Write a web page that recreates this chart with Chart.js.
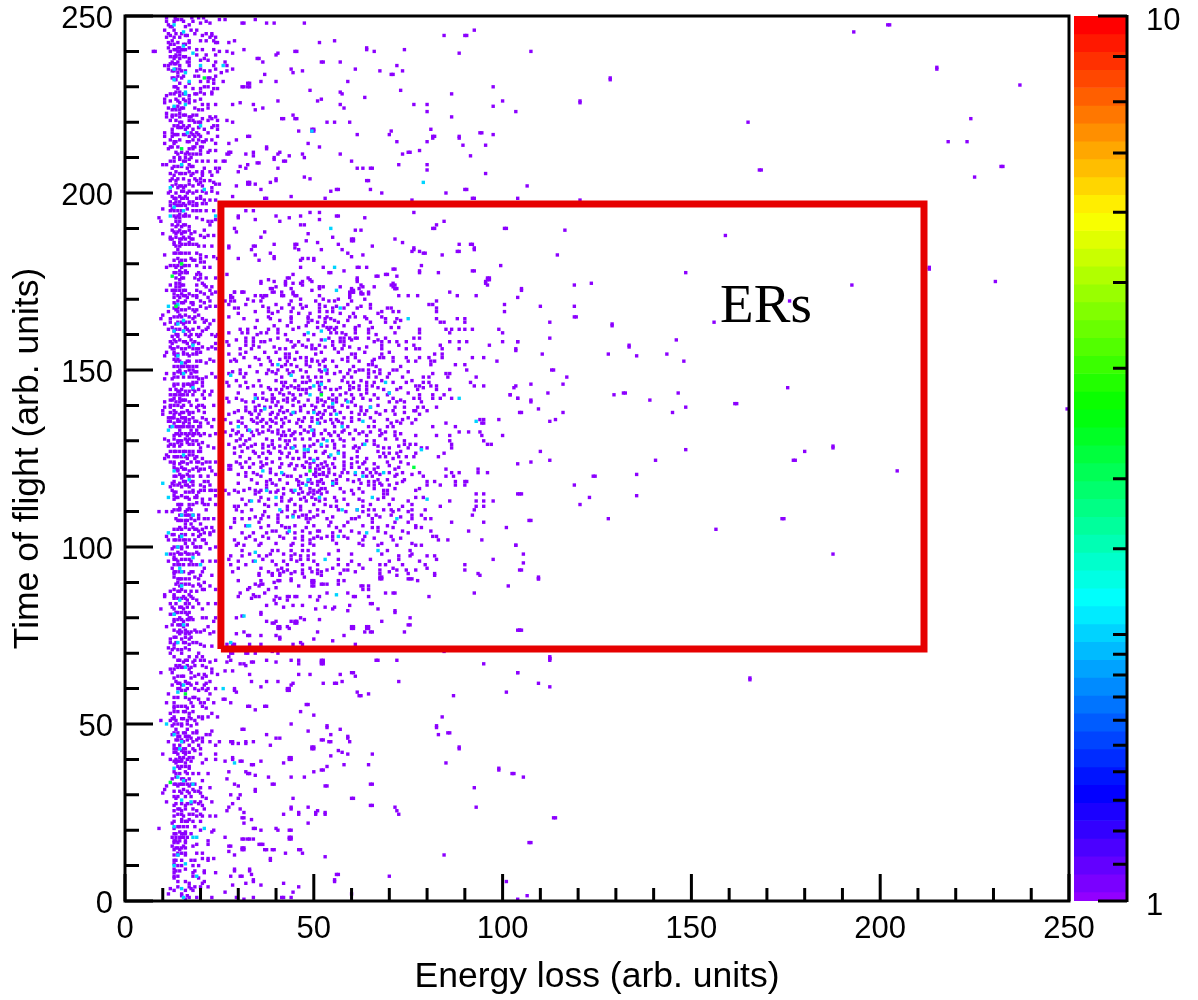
<!DOCTYPE html>
<html>
<head>
<meta charset="utf-8">
<title>ERs</title>
<script src="https://cdn.jsdelivr.net/npm/chart.js@4/dist/chart.umd.min.js"></script>
<style>
  body { margin: 0; background: #fff; }
  #wrap { position: relative; width: 1198px; height: 1000px; }
  #main { position: absolute; left: 0; top: 0; }
  #bar { position: absolute; left: 1070px; top: 0; }
</style>
</head>
<body>
<div id="wrap">
  <canvas id="main" width="1198" height="1000"></canvas>
  <canvas id="bar" width="128" height="1000"></canvas>
</div>
<script>
// every row: first number is the time of flight, the rest are energy loss values
const bandTop = [
  [249.5,11,13.3,17.7,19.5,20.8],[248.5,11,13,15.5,18,21.5],[247.5,11.5,17],[246,10.5,13,17.5,19],
  [245,11.5,13.5,15,18.5,21.5,23],[244,11,13,14.5,22.5,24],[243,12.5,17,20,21.5,23.5],[242.5,11.5,14,17,24,24.5],
  [241,11.5,14,14.5,17],[240,7.5,8,12,14,14.5,25],[239,13.5,14.5,19,21.5,24],[238,13,14.5,17,21],
  [237,12.5,14,16.5,17,24,26.5],[236,10.5,11.5,14.5,17,23.5,27],[235,11.5,13.5,14.5,20,24],[234,14,25.5],
  [233,14,15.5,18.5,19.5,24],[232,13.5,23.5],[231,14.5,17,23.5],[229.5,14,18,20,23.5,24.5],
  [228.5,13.5,14.5,20,23],[227.5,11,14.5,17],[226.5,10.5,13.5,15.5,17,20],[225.5,10.5,14.5,17],
  [224.5,14],[223.5,12.5,13.5,14.5,19.5,20.5],[222.5,11,14.5],[221.5,11,12.5,14.5,17,17.5,22.5,24],
  [220.5,12,13.5,17,18,22,24.5],[219,13,14,15.5,17,23.5,24.5],[218,12.5,16,18,21,24.5],[217,10.5,12.5,17.5,19,22],
  [216,10.5,12.5,17,18.5,20,24.5],[215,12,14.5,18,19.5],[214,10.5,13,19,24],[212.5,11.5,17,18],
  [211.5,13.5,15,16.5,22],[210,13,14.5,16,17.5],[209.5,14.5,17],[208,10,11,17],
  [207,12.5,16.5,21,24,25],[206,13.5,17,19],[205,13,17.5,20.5,23],[203.5,12,13.5,17,19,21,22.5],
  [202.5,13.5,17,19.5,24,25],[201.5,14,15.5,23],[200,11.5,13.5,16.5,18,21.5,24.5],[199,12.5,14.5,16,20],
  [197.5,12,13.5,14.5,17,18],[197,13,15.5,17,19,20.5,21.5],[195.5,10,12.5,16.5],[194,14.5,16],
  [193,9,13.5,14.5,19],[192,9.5,13.5,14.5,22,23],[190.5,13.5,15,17],[189.5,12.5,14.5,17,21],
  [188.5,10,13.5,15,17.5],[187.5,12,13.5,15.5,17,21],[186,13,14.5,17],[185,13.5,14.5,19.5],
  [184,14],[182.5,10.5,20],[181.5,14,17.5,20,24.5],[180.5,14.5,20,21],[179,11,13.5,15],[178,14.5,16],
  [177,14.5,19,20],[175.5,14.5,19.5],[174.5,13.5,14.5,20.5],[173.5,13.5,14.5,21.5,23]
];
const bandMid = [
  [172.5,11,13,14.5],[171.5,13,15,17,21,23],[170.5,13,14.5,16.5,19,22],[169.5,14,16,20,22.5],
  [168.5,13.5,18],[167.5,13,14,17,21.5],[166.5,11.5,14,18.5],[165.5,10,14.5,16,19.5],
  [164.5,9.5,12,18,20.5],[163,10.5,13.5,15.5,22.5],[162,12.5,16,19.5,22],[161,13,15.5,17,20.5],
  [159.5,12.5,14,17,19.5,24],[158.5,13,14.5,17.5],[157.5,12.5,16.5,18,19.5,24],[156.5,12,14,17,20.5,23],
  [155,11,13,15.5,19,20],[154,10.5,13.5,17],[153,13,14,22.5],[152,15,16,21.5],
  [151,14,16.5,17],[150,14.5,17,18],[149,11,13,15,17.5,23],[147.5,10.5,12.5,19.5,20.5],
  [146.5,18,19,20.5],[145.5,13,15.5,17.5,20.5],[144.5,12,13.5,15,18,19.5],[143,13.5,14.5,20.5,22.5],
  [142,13,14.5,21],[141,10.5,13.5,14.5,17],[139.5,10.5,12,15,19,21],[138.5,10,13,16.5,19.5],
  [137.5,10,13,14.5,17],[136,14,16,17],[135,13,15.5,17,20,22],[134,12,13.5,15,16.5,18,23],
  [133,14.5,17.5,19],[131.5,13,14.5,16.5,18,20,22.5],[130.5,10.5,13,16,17],[129.5,14,16.5,20.5],
  [128.5,11.5,13,14.5,22],[127,12,14.5,19.5],[126,11,17,18],[125,10.5,16.5,18.5,20.5],
  [123.5,13,14.5,16.5,20.5],[122.5,13,15,19,22.5],[121.5,14,17,19.5,23],[120.5,14.5,16.5,24],
  [119.5,15],[118,12.5,14.5],[117,12,15,17,21],[116,12.5,18,22.5,24],[114.5,13,15,19,24],[113.5,13,17,20.5,22.5],
  [112.5,19,20.5],[111,14.5,17],[110,9,11,12.5,16],[109,17],[108,13.5,17.5,19.5,22],[106.5,16,17.5,20],
  [105.5,14.5,16,18,21.5,23],[104.5,19.5,23.5],[103,11,14.5,19.5],[102,11.5,14.5,17,20.5],
  [101,16,18,21.5],[99.5,12.5,15,22.5],[98.5,14,16,19],[97,13],[96,11.5,14,17.5,20.5],
  [95,13,18],[94,12.5,21],[92.5,13,17],[91.5,13,18.5],[90,14,21],[89,14.5,18,20,22.5],[88,13,15,21],[86.5,10.5,13,17]
];
const bandLow = [
  [86,10.5,13,15.5,17.5],[85,16.5,19],[84,12,13.5,16,17],[82.5,9.5,13,15.5,20.5],[81,12,13,16.5],
  [80,14.5,17,17.5,20.5],[79,13,15.5,23.5],[77.5,11,15.5,22],[76.5,13,14.5,16,18.5,21],[75.5,14.5,16,17,22.5],
  [74,12,15,17],[72.5,13,17,20],[71.5,11.5,13,16],[70,12,15,19.5],[69,13,17,19,20.5],
  [67.5,15.5,18,22.5],[66.5,13.5,14.5,16.5,18.5,20.5],[65.5,12,13,17,23],[64.5,9.5,12.5,17.5,23],[63,13,17.5,20.5],
  [62,13.5,16,22.5],[61,12.5,15,17.5,21],[59.5,15,16,19.5,21.5],[58.5,11.5,22.5],[57,17,19.5,22,26],
  [56,11,13,17.5,21],[54.5,13,16.5,21.5],[53,12,17,23],[52,13,17,19.5,22],[51,9.5,12,13.5,16.5,18.5],
  [49.5,12.5,15,17.5],[48.5,13.5,16.5],[47,12.5,21.5,22.5],[46,17.5,19.5,20.5],[45,11.5,15.5,18,20.5,22.5,25],
  [44,13,14.5,17],[42.5,15,18.5],[41.5,10,14,16,20,24],[40,12,13.5,15,16.5],[39,13.5,16,20.5],
  [37.5,14.5,17],[36.5,13,16],[35,13.5],[34,16,20.5],[32.5,11,14,17],[31.5,10.5,15.5,18],
  [30.5,10,15,17,20],[29,13.5,21.5],[28,11,18.5],[27,13,16,20.5],[25.5,13,15,19],[24,13,15.5,19,22.5],
  [23,15,17],[22,12.5],[20.5,9,13],[19.5,14.5,16,23],[16.5,13,14,16],[15.5,12.5,15.5,18],[14.5,13,14.5],
  [13,13,14,16],[12,20.5],[10.5,13],[9,13,16],[8,13,18],[6.5,13,19.5],[5,17,20.5],[3.5,12,17.5],[2,11.5,15],[1,17],[0.5,16]
];
// second pass over the band, the chains of touching cells
const bandExtra = [
  [249,13.5,14,15],[247,12,12.5,16],[244.5,12,16,16.5],[242,12,13,15.5,16],[240.5,13,13.5,15,15.5,16],[238.5,12,13,13.5,15.5,16],[236.5,12,13,13.5],
  [234.5,12.5,13,15,16],[232.5,12.5,13,15,22,22.5],[230,13,13.5,16,21,22],[228,12,13,15.5,16,18.5,19],[226,12,14,16,18.5],[224,11.5,13,15,15.5,18.5,22],
  [222,12.5,13.5,15.5,16,18,19],[220,14.5,15,18.5,19.5,20],[218.5,14,14.5,15,16.5,19.5],[216.5,13,13.5,14,15.5,16,18,19.5],[214.5,13,13.5,16.5,17,20.5,21],
  [213,12,12.5,14,18,18.5,20,20.5],[211,14,16,17,18,19,20],[209,12,13,15.5,16,19],[207.5,13,14,15,17.5,18],[205.5,12,14.5,15,16,18,20.5],[204,12.5,14,15.5,18.5,20],
  [202,12.5,14.5,15,16,18,20.5],[200.5,12,15,15.5,17,19],[198.5,13,13.5,15,15.5,16.5,19,20],[196.5,12,13.5,14,14.5,15,16,18,19],[195,12,13,14,15,18,19],
  [193.5,13,14,15.5,16,17],[191,12.5,14,15.5,16,22.5],[189,13,14,15.5,16,18.5],[187,12,12.5,14.5,15,16,17.5,18],[185.5,13,15,16,17,18,19],[183,13,13.5,14.5,15,16,17,19],
  [181,13,15,16,18,18.5],[179.5,12,13,14,15.5,16,17,19],[177.5,13,13.5,15,16,16.5,19.5],[176,13.5,15,15.5,18.5,20],[174,12,15,15.5,19,21],[172.5,12.5,13.5,15.5,16,19,22.5],
  [171,14,15.5,16,18,19],[169,13,15,15.5,17.5,18,21],[167,13.5,15,16,18,19],[165,13,14,15,17,18.5],[163.5,12,14,15,16,17,18.5,21],[161.5,11.5,13.5,14.5,16.5,18,21.5],
  [160,13.5,14,16,17.5,19],[158,12,13.5,15.5,16,18.5],[156,12.5,13,15,16,18,19.5],[154.5,13,14,15.5,16.5,18,19],[152.5,13.5,14.5,16.5,17,19,20],[151,13,15,15.5,18,19],
  [149.5,14,14.5,16,18.5,19],[148,13,14,15.5,17,18,19],[146,13,14,15.5,16.5,17,18],[144,14,14.5,16,17,18.5],[143,12,13,15,15.5,16.5,18],[141.5,12,12.5,15,15.5,16,19],
  [140,12,13,14,15.5,17.5,19.5],[138,12,13.5,15,15.5,17,18,21],[136.5,11.5,12,12.5,13,15,15.5,16,18,20.5],[135.5,11.5,12,14,14.5,16,18.5,19],[134,14,14.5,15.5,17,19.5,20],
  [132,13.5,14,15,16,17,18,18.5,19.5],[130,11.5,14,14.5,15,16.5,18,19],[129,12,13,15,17,18,19.5],[127,13,13.5,15.5,16,17,18,20],[125.5,11.5,13,13.5,14,15,16,19],
  [124,12,13,15,15.5,17.5,19,21.5],[122,13.5,14,15.5,16,18,20,21],[120,13,13.5,15,15.5,17,18,20],[118.5,13,15.5,16,17.5,18,21,22],[117.5,13,14,16,16.5,18,20,22.5],
  [115.5,13,13.5,16,17,18,19.5],[114,13.5,14,16,16.5,18.5,19],[112,14,14.5,15,17,18,21],[110.5,13,14,14.5,16.5,17.5,21.5],[109,14.5,15,16,16.5,18,19.5],
  [107.5,14,14.5,15,16,16.5,18.5],[105,13,14,15,17,18.5,19,20.5],[103.5,12.5,13,15,16,18,20,22.5],[102,13,13.5,15.5,16,18.5,21],[100,13,14,15,16.5,18.5,19,20],
  [98,12,13,14.5,15,16.5,17,18,19.5],[96.5,13,13.5,15,16,17],[95,14,14.5,15.5,17,19],[93,13,13.5,14.5,15.5,17.5,18,20.5],[91,14,14.5,15,16,17,19.5],[89.5,13.5,15,16,17,19.5],
  [87.5,12,14,14.5,16,17.5,19],[85.5,13,14,15,16,18],[83,12.5,14.5,15,16.5,18],[81.5,13.5,14,15,16,17],[79.5,13,14,15,16.5,17,18],[78,12.5,14,14.5,15,16.5],[76,14,15,16.5,17.5,19],
  [74.5,13,13.5,16,17.5],[73,12,13.5,15.5,16,18,19],[71,12.5,14,15,17],[68,14,14.5,16,16.5,18.5,20],[66,14,15,15.5,17.5,21.5],[63.5,14,15,15.5,18.5,21.5],[61.5,14,14.5,16.5,17,19,21.5],
  [60,14,14.5,16.5,18.5,20.5],[57.5,13,14,16,18,18.5],[55,13,14,15,16,18,20.5],[53.5,13,14,15.5,16,18],[51.5,12.5,13,15,15.5,17.5,20.5],[50,13,14,15,16.5,19],[47.5,13,14,15.5,16,18,19],
  [46.5,14,14.5,16,16.5,17],[45.5,13.5,14,15,16.5,19],[43,13,13.5,14,15.5,16,18,20],[42,13,13.5,15.5,16,17],[40.5,14.5,15.5,17,18],[39.5,13,14,14.5,15,17.5],[38,14,15,16,17],
  [36,13.5,14.5,16.5,18],[34.5,12.5,15,15.5,17],[33,13,13.5,14.5,15,15.5,16.5,17.5,18.5],[31,13,14.5,16.5,18.5,19.5],[29.5,13,14,16,17.5,20.5],[27.5,13.5,15,16.5,17.5,19.5],
  [26,14,14.5,16,18,21],[24.5,14,15,17,18,20],[22.5,13,15,16,16.5,18,20],[21,14,14.5,15.5,16.5,18.5],[19,13,13.5,15,15.5,16,17.5],[18,12.5,13.5,14.5,15,15.5,16.5],[17,13,13.5,14.5,16,22],
  [15,13.5,14,15,16],[13.5,14,15,16,19,20.5],[11.5,13,13.5,15,17.5,18.5,22],[10,14,15,18,19.5],[8.5,13.5,14.5,18.5,21],[7,13,14,18],[5.5,14,16,21],[4,14,17,18.5],[3,13,16,18],[1.5,15,16.5]
];
// right hand edge of the band
const bandOuter = [
  [248,20,22.5],[244.5,20.5,23],[240.5,19,20.5,23.5],[237.5,20,22],[234.5,19,21,22.5],[231.5,20,22],[228,21,23],[225,20.5,22,24],[221,20.5,23],[218.5,19.5,23],[215,21.5,23],
  [212,20,22.5,24],[209,20.5,22,24],[206,20.5,22.5,24.5],[203,20,23.5],[200.5,20.5,23],[198,21,22.5,24],[195,20,21.5,23.5],[192.5,20.5,24],[188,20,22,23.5],[185,21,23],[182,21.5,23.5],
  [179,21,22.5],[176,21.5,24],[172,20,24],[168,20,22.5,24],[164,21.5,23.5],[160,20,23,24.5],[156,19,22,24],[152.5,20,23.5],[148,21.5,24],[144,21,23],[140,20.5,23.5],[136,21.5,23.5],
  [132,21,24],[128,20,23.5],[124,19.5,22.5,24],[120,20,22],[116,20,21,23],[112,22,24],[108,21,23.5],[104,21,22.5],[100,20,24],[96,22.5,24],[92,20,23],[88,20.5,24],[84,19.5,22,24],
  [80,21.5,24],[76,20,23.5],[72,21,23],[68,21,24],[64,19.5,21,24.5],[60,22,24],[56,20,23.5],[52,20.5,24.5],[48,19,23],[44,19.5,24],[40,21.5,24],[36,19.5,22],[32,20,22.5],[28,20,23],
  [24,20.5,24],[20,20,23.5],[16,19,22],[12,22,23.5],[8,21,24],[4,20,22],[1,19,23]
];
const clusterRows = [
  [175,36,39.5,42.5,47,49.5,61.5,95.5],[174,42.5,47,62.5,70.5,71.5,96],[173,38.5,44,51.5,60,62,71.5],
  [172,29,31,39,41.5,44.5,59.5,60.5,62.5,64.5,86],[171,28,34.5,36,37,45.5,59.5,72.5,75,77.5,88,93],
  [169.5,26.5,28,29,34,36,44,50.5,54,55.5,60,82.5],[168.5,27.5,32,40,43.5,46.5,51.5,59,65,80.5,81.5,100.5],
  [167.5,29,30,38,41.5,44.5,47,51.5,55,58,61.5,65,69.5,70.5,82.5],[166.5,34.5,38,40.5,44,51.5,53.5,55,68,71,72.5,82.5,100.5],
  [165,27.5,38,44,48.5,51.5,53.5,59.5,61,63.5,68],[164.5,31.5,38.5,44,48.5,53,54.5,64,69,72,82.5,88,90],
  [163.5,44,48.5,51,53,56.5,65,69,71.5,83.5,84.5,90],[162,34.5,46,51,53.5,54.5,56,61,65.5,70.5,72.5],
  [161.5,30.5,32.5,38,40.5,44.5,54,55.5,61,64.5,78,85,86.5,88.5,90,92,99],[160.5,27.5,31,32.5,36,37.5,40.5,54.5,56,57.5,61,64.5,71.5,78,86,100],
  [159,32,34,40.5,54,57,58,59.5,61,61.5,64.5,69,76.5,78],[158,27,32,34,36,37,44,46,55,57,58,66,68,70,72,74.5,86,88.5,90.5,100,104],
  [157,27.5,32,34,45,47,49.5,51.5,55,58,68,72.5,76.5,83.5,96.5],[156,30.5,33.5,41,42.5,49.5,50.5,55.5,57.5,62,68,74.5,77,78,84,88.5,103.5],
  [154.5,27.5,30.5,42.5,43.5,50.5,60,61,68,82,84],[153.5,31.5,34.5,38,42.5,43.5,46.5,48,59,61,67.5,68.5,71,74.5,78,80.5,84,92,95],
  [152.5,28,29.5,38.5,43,48,49.5,51,52.5,55,59,62,65.5,71,75,77,81,82,98.5],[151.5,36,39,42.5,44,48,51.5,64.5,65.5,81,87.5,90],
  [150,30.5,38,40.5,43,46.5,51.5,53.5,59.5,62,63,64.5,67.5,71,72,90.5],[149,27.5,30.5,32,37.5,40,43.5,53.5,55.5,59,64.5,67.5,70,81.5,85,86],
  [148,31.5,41.5,47,48.5,50.5,52,58,60,64.5,66.5,69.5,73.5,79,80.5,85.5,93],[146.5,27,32,41.5,42.5,47,48,51,52,59,60.5,64,66,71,74.5,79,80.5,91.5],
  [145.5,27.5,30.5,34,36,42,44,46,51.5,59.5,62,64,65.5,77,78,81,82.5,92.5,95,103.5],[144.5,38.5,40,41.5,46,47,48,51.5,54.5,56,59.5,62,64,68.5,72,77.5,82.5,86],
  [143,34.5,39,42,44.5,46.5,55,57,60,62.5,66,69.5,78,81.5,84.5,102],[142,27,29.5,35,36.5,39,39.5,43,45,51,54,56,60.5,63,67,71,76.5,78,81.5,83.5,86.5,104],
  [141,27.5,32,34,39,40.5,43,46,51,53,56,60,70,72,74,78.5],[139.5,32,34.5,37,38.5,41.5,46.5,50.5,54,55,59,62.5,65,71.5,74,77.5,79,82.5],
  [138.5,30,32,34.5,36,41,43,46.5,50,53,55.5,62.5,64,69,71,76.5,77,80],[137.5,27.5,33.5,35.5,38.5,40.5,44,51,52.5,54.5,62,63.5,67.5,71.5,78],
  [136,26.5,33.5,36.5,38.5,41.5,46,51,54.5,56,62,69.5,73.5,77,94,95,99],[135,28,31,35,37.5,40,42,45.5,51.5,55,57.5,70.5,73,76,85,94.5,95],
  [134,32,36.5,38.5,41.5,46.5,49,55.5,59,64.5,66,69.5,71,81.5,87.5],[132.5,26.5,30,33.5,36.5,39,42,45,48.5,55.5,57.5,63,65,69,71.5,88.5,91,94],
  [131.5,28,31,34,41.5,42.5,44,50,54.5,56.5,64,67.5,71.5,77,82.5,86,94.5,100],[130,29.5,32,39,42.5,43.5,51,55,58,64,66,74,86,95],
  [129,27.5,31.5,34.5,36.5,39,43,50,55.5,63,66,74,75.5,77,86.5,96,97],[128,29,32.5,36.5,39.5,42.5,44,55.5,60.5,62,68.5,70,75,78.5,80,86.5],
  [126.5,29,34.5,36.5,38.5,41.5,43.5,47.5,52.5,58,68.5,70,72,77,84.5],[125.5,30.5,35.5,43,47.5,54,58,61.5,67.5,69,72.5,74.5,76.5,83],
  [124,29.5,32,36,39,48,50,53,58,61.5,63.5,69.5,73],[123,27.5,28,36.5,43.5,45.5,47,51,53.5,58,70],
  [122,27.5,28,38.5,45,50.5,51.5,54,58,64,66,71.5,85,93.5],[121,32,34,38.5,50.5,52.5,54,57.5,59,63,65,66.5,70,73.5,78,86.5,88.5,93.5,96],
  [120,32,36,43,44,46.5,50.5,53.5,57,64,65.5,71.5,79,85,87],[118.5,37.5,46,48.5,51,51.5,55,60.5,64.5,66,73.5,80,82,87.5,90,90.5],
  [117.5,37.5,40,46,51,55,64.5,66,68,70,80,83.5,87.5,90],[116,26.5,29,31.5,34.5,36,40.5,44,50,51.5,60,68.5,69.5,77],
  [115,27.5,34.5,42,46,48.5,50,52,60.5,68.5,69.5,93,95,104],[114,36,41.5,47.5,49.5,55.5,68.5,77,79],
  [113,33,35.5,41.5,43.5,48,51.5,56,63,75,86,93,95,97.5],[111.5,29,30,38,43,46.5,54.5,56,63,73.5,83.5,93,95],
  [110.5,29.5,33.5,43,46.5,51,56.5,61.5,64.5,66,68.5,70.5,72.5,76,79.5,92.5],[109,36.5,40.5,44.5,47,48,51,64.5,66.5,70.5,76,78.5,92],
  [108,29,31,33,36,40.5,48,49,53.5,60,61,65.5,76,79.5,81],[107,29,35.5,40.5,48.5,54.5,59,65.5,71.5,75,86.5,95],
  [105.5,28,36,42.5,43.5,48,56,65.5,67,71,77,78.5,101],[104.5,39,40,47,51,51.5,57,60,67,73.5,81,91],
  [103,33,36.5,41,47,51,53.5,55,58,63.5,70.5,81.5,82.5],[102,29,34.5,47,49,55,63,71,83,85.5,94.5],
  [100.5,29.5,31.5,35.5,44,47,50,63,67,72,77,78.5,103.5],[99,31,39,40.5,44,47,48.5,56.5,69.5,75.5],
  [97.5,28,31,35.5,37.5,44,46.5,48.5,72.5,75.5,80,82],[96.5,27.5,36.5,44,46.5,48.5,56.5,65,72.5,82.5,97.5],
  [95,28,32,40,43,47,51,56.5,59,62,67.5,69,73.5,79.5,90],[93.5,40.5,43,47,51,53.5,58,59,67.5,72,74.5,77,90],
  [92.5,35.5,39,41,44,47,51,57,67.5,75,82,93.5]
];
const clusterExtra = [
  [173.5,40,52.5,57,66],[170,32.5,46.5,52.5,56.5,63.5],[168,36.5,48,53,56,62.5],[166,30,39,46,49,57,60.5,67],[164,35,41,49.5,55.5,59,73],[162.5,39.5,43,48,52.5,58,62],
  [160,35,42.5,47.5,50,58.5,66.5],[158.5,29.5,38.5,43,48.5,52,60,67],[156.5,35.5,39.5,44.5,48,53,59.5,64],[155,32,37,40,45.5,52,56.5,63.5,70],[153,29,35.5,41,45,49.5,53,57.5,66],
  [151,33,41.5,45.5,49,53,56,60.5,66.5,73],[149.5,28.5,35,39,44.5,48,52,57,61,66,75],[147,29.5,35.5,40,45,49,54,57.5,62.5,68,76],[145,32.5,38,43,45,49,53,57,60.5,67,73,79],
  [143.5,30,36.5,41,43.5,48,52,58.5,64,70,75],[141.5,31,37.5,42,44.5,48.5,52,55,58.5,65,73],[140,35.5,40,44.5,47.5,49.5,52.5,57.5,61,67],[138,29,33,39,42,45,48.5,51.5,57,60,66.5,74],
  [136.5,31,35,40,42.5,47.5,49.5,52,58,60,65,75],[135.5,30,34,36,39,43.5,47,49.5,53,56.5,60,66,72],[133,28.5,32.5,35,38,40.5,43.5,47.5,50,53,58,61,67.5],
  [132,29.5,35.5,40.5,44.5,46.5,50,52,54,59.5,62,68,73],[130.5,30.5,33,37.5,41,45,47,49,52.5,57,60.5,69,72],[128.5,30.5,33.5,38,41,45,47.5,49,52,53.5,58,61,67,72.5],
  [127,31,34,38,41,45.5,48.5,50.5,53,56.5,61.5,67,73],[125,33,37.5,41,44.5,46,49,51,55.5,60,64,71],[123.5,30.5,34,37.5,41.5,44,49,52,55,60,63,66,75],
  [122.5,31,33,36,41,47.5,49,52.5,55.5,60,62,67,72.5],[120.5,30,35,40,42,48,50,51.5,52.5,55.5,61,67.5,72,76],[119,33.5,38.5,41,45.5,49,52,56,59,62,67,69.5,74],
  [118,30,35,39,43,47,49.5,52.5,56,62.5,67.5,72],[116.5,33,37.5,42,46.5,49,52,53,57,62,66,71.5,78],[115.5,30,35.5,38.5,40,44.5,47,49,51,53.5,58,63],[113.5,31,38,44,46.5,50.5,53,58,62,67,71],
  [112,32,37,40,45,50,53,59,65,70,76],[110,31,37,41.5,45,49,52.5,58.5,63,71,75],[108.5,34.5,38,43,46,50,55,62,67.5,73],[106,32,38,41.5,45,50,54,58,63,69.5,77],[104,31,34,37.5,43,45,49,55,62,69,75],
  [102.5,32,38,42,45,50,52,59,66,73],[101,30,36,40,44.5,49,56,62,68,76],[98,33,38.5,42,45,50,54,60,68,76],[96,30,34,39,42,45.5,50,60,70,78],[94,30,36,41.5,49,55,63,71,80],[93,28.5,38,42,45,49.5,52,61,70]
];
const lowRows = [
  [92,35.5,39,41,52,72,82,94],[91.5,47.5,67.5,68],[91,44,67.5,68,75,75.5,76,109.5],[90.5,30,36,40.5,41,44,49.5,50,56.5,58,77.5],
  [90,39.5,49.5,50],[89.5,34.5,36,36.5,52,52.5,53.5,56.5],[89,35.5,46,49.5,50,62.5,63,64.5,101.5],[88.5,33,40],[88,32.5,38,63,64.5],
  [87,30.5,37,53.5,59,69,71,71.5,92.5],[86.5,34],[86,30,34.5,35.5,40,43,43.5,45,45.5,49,51.5,60.5,61,64.5,80.5],[85.5,33.5,41],[85,39.5,43,51],
  [84,40,65,65.5],[83.5,37.5,44.5,47,59.5],[83,42,53,55.5],[82.5,50.5,55,67],[82,59,71.5],[81.5,36,71.5],[81,36],[80.5,31],[80,29.5,46.5,75.5],
  [79.5,47.5,51.5],[79,37.5,40,44,45,45.5,68],[78.5,39,39.5,45,45.5],[78,75,75.5],[77.5,40.5,41,43,60,60.5,64,64.5],[77,40.5,41,43.5,60,60.5,64,64.5],
  [76.5,104.5,105],[76,31.5,51,63.5,65,65.5,74],[75.5,29.5],[75,32.5,33,36,40,58],[74.5,41],[74,41,50],[73.5,55],[73,46.5],
  [72.5,27,28.5,29,33,36,44.5,47,61],[70,28,28.5,32,32.5,34.5,40.5],[70.5,39,84.5],[69,27.5],[68.5,112.5],[68,28,37.5,44,46,52,52.5,66.5,67,72,112.5],
  [67.5,27,33.5,34,40,52,52.5],[67,30.5,31.5,46,52,52.5,95],[66.5,32],[65,26.5,28.5],[64.5,60,60.5,104],[64,33,46,49,57],[63.5,61],
  [62,33.5,37.5,40.5,57.5,72.5],[61.5,44.5,52.5,55.5,56,109.5],[61,44],[60.5,36,112.5],[60,29,43,43.5],[59.5,29,43,43.5],[59,29.5,61.5,101],
  [58.5,64.5],[58,62,62.5,87],[57,26.5],[56,28],[55.5,48,48.5],[55,32.5,33,37,37.5],[54,34.5],[53.5,46.5],[52.5,50],[52,84],[50,44],
  [49.5,53.5,82.5],[49,53.5,82.5],[48.5,31,31.5,57],[48,48.5],[47.5,85.5,86],[47,37.5,54.5,83],[46.5,59],[46,40,41,59],[45.5,52,52.5],
  [45,54,54.5,59.5,28,28.5,32,34],[44.5,28.5,30,32],[44,38.5],[43.5,49.5,50,88.5],[43,49.5,50,88.5],[42.5,56.5],[42,57.5],[41.5,59,65.5],[41,54.5],
  [40.5,28.5,43.5,44],[40,28.5,43.5,44],[39.5,26.5,30.5,31,36],[39,42,85],[38.5,33.5,34,58,64.5],[38,53.5],[37.5,99],[37,52,52.5,99],
  [36.5,27.5,32,50],[36,32.5,33,102.5,103],[35.5,34.5],[35,38,44,47.5,105.5],[34.5,27],[33,29,39,39.5,65,65.5],[32.5,30,53,53.5],[32,92.5],
  [31.5,34.5],[31,34.5],[30,28,30.5],[29,44.5,30,60,60.5],[27.5,28.5],[27,65,65.5],[26.5,27.5,48.5,71.5,93,44],[26,30.5,44],[25.5,27,51,72],
  [25,31.5,50.5,46,53],[24.5,50.5,46,53,42,72.5],[23.5,31,31.5,113.5,114],[23,33.5],[22,31.5,48.5],[20.5,40,34,34.5],[20,40.5,36,43.5,44],
  [18,26.5,43.5,44],[17.5,31,31.5,32.5,33,34,43.5,44],[16.5,107,107.5],[16,35.5,36,36.5],[15.5,27.5,28],[15,31,31.5],[14.5,31,31.5,37,37.5,39,39.5,46,46.5],
  [14,27.5],[13.5,42.5,47],[13,29,84.5],[12.5,53],[12,38.5],[11.5,38.5],[9,29,33],[8.5,29,33],[7.5,33.5,56,56.5],[7,28,30.5,31,70],[6,34,55.5],[5.5,34,55.5,101],
  [5,32,42],[4.5,28.5,36],[4,46],[2.5,26.5,44.5],[2,60],[1.5,106.5],[1,29.5,34,41.5,42,44],[0.5,31.5,104]
];
const upperRows = [
  [249,25,26.5,34.5],[248,31,31.5,37.5,39.5,47.5],[243,29,55.5],[242.5,27.5,51.5],[241,64],[240.5,31.5,64],[240,27,45,45.5,66],[239.5,40.5,28.5],[239,40],
  [238,35,35.5],[237,36.5,52,52.5,57],[236,72],[235,28.5,44,61],[234.5,27,47,67.5],[234,44.5],[233.5,37,70.5,71],[231.5,26,36,40,59],[231,32.5,33],
  [230,31,31.5,32.5,33],[229,49],[228.5,57],[228,57.5],[227,63.5],[226.5,52],[226,40.5,51],[225.5,30.5],[225,28.5,34,57],[224,36.5,58],[223.5,34.5],
  [222,44.5],[221,41.5,42,45,45.5],[220.5,27],[220,28.5,53.5,55.5,59.5],[218,49.5,50],[217.5,46,49.5,50,70.5],[216.5,61.5,70],[216,32.5,33],[215,29.5],[214.5,72],
  [214,27.5,48.5],[213,51.5,37.5],[212.5,37.5],[211.5,27.5,28,34,41],[211,27,27.5,32,40.5,47,57],[210.5,34,43.5],[210,39.5,47.5],[209.5,39.5],[209,26,26.5,42,42.5,60],
  [208.5,35,35.5],[208,32.5,72.5],[207.5,30.5],[207,32,40.5,61.5,63,65,65.5],[206,30],[204.5,47.5],[204,49,40],[203.5,40,64,64.5],[203,32.5,33,38.5],[202.5,32.5,33,34.5],
  [202,29.5],[201,56,56.5,65,36],[200.5,54.5],[200,68],[199,28.5,44],[198.5,37,37.5,53],
  [195,32,34],[194.5,76.5,49,51.5],[193.5,30,40,56,56.5,46.5],[193,43.5,63.5,30],[192.5,34.5,51.5],[192,41,84.5],[191,82.5,46.5,47.5],[190,29,81.5,82,100.5,101],
  [189.5,116.5,62.5,61],[189,29.5,37],[188.5,48.5],[187.5,36,55],[187,60,60.5,71.5],[186.5,48,60,60.5],[186,51,73.5],[185.5,88.5,91.5,92,45,45.5,39.5,56.5],[185,34,34.5,27.5,65.5],
  [184.5,27.5,76.5,92.5,45],[184,33.5,46,52,57.5,76.5,92.5],[183.5,76,88,88.5,78],[183,38.5,59,79,79.5],[182.5,34.5,63,114.5,84],[182,39.5,60],[181.5,30,47,48.5,50,39.5],
  [181,46.5,35.5,50],[179.5,78.5,99.5],[179,46.5,64,61.5,62,52.5],[178.5,71,71.5],[178,58,92,92.5,78],[177.5,54,54.5,83,78],[177,27,44.5,69,69.5],[176.5,66.5,67,72],
  [176,43,43.5,48.5,61.5,96,96.5],[175.5,38,49,61.5,96,96.5],[174.5,42.5,46.5,44.5,36,95.5,71],[173.5,51.5,51.5,63,71],[173,39,71.5,72],[172.5,49.5,60,60.5],[172,29,39.5,60,60.5,31,31.5],[171.5,44.5,59.5,62.5,63,64.5],
  [171,37.5,41.5,42,45,51.5],[170.5,36.5,59.5,28,28.5]
];
// scattered points on the right, as [energy, time]
const sparsePoints = [
  [84.5,244.5],[90,244.5],[90.5,244.5],[92.5,246],[193,245.5],[202,247.5],[202.5,247.5],[74,240.5],[88.5,239.5],[107.5,240],[73.5,234.5],[215,235.5],[215,235],
  [128.5,232.5],[128.5,232],[73,229],[97.5,230],[86.5,228],[237,230.5],[76.5,225],[80,225],[100,226],[97.5,224.5],[120.5,226],[120.5,225.5],[103.5,223],[80,223],
  [86.5,221.5],[224,221],[165,220],[81,218],[94,217],[94.5,217],[97.5,216.5],[81.5,216],[82,216],[81.5,215.5],[88.5,216],[88.5,215.5],[80,214.5],[89.5,213.5],[95.5,213.5],
  [218,214.5],[223,214.5],[78,212],[75,211.5],[75.5,211.5],[73.5,211],[91.5,210.5],[80,208],[80,206.5],[95.5,205.5],[168,206.5],[168.5,206.5],[232,207.5],[232.5,207.5],
  [225,204.5],[106.5,202],[90,201],[90.5,201],[85,200],[92,198.5],[92.5,198.5],[104,198.5],[76,198],[120.5,198],
  [105,173],[105,172.5],[104,170.5],[119,174],[123.5,174.5],[192.5,174],[230.5,175],[110,168],[119,168],[119,165],[119.5,165],[112.5,163.5],[129,163],[129,162.5],
  [176,169.5],[156,163.5],[104,158],[112.5,159],[103.5,155.5],[110.5,154.5],[128,154.5],[133.5,157],[133.5,156.5],[135.5,154],[146,158.5],[143.5,154.5],[148,152.5],
  [113,150],[113.5,150],[117,148],[107.5,146],[116,146],[103,145],[112,143.5],[129.5,143],[132,143.5],[132.5,143.5],[139,141.5],[146.5,143.5],[175.5,145],[102,143],
  [104,142],[107.5,141.5],[107.5,141],[109.5,139],[104.5,138],[105,138],[116,138],[112.5,135.5],[114,136],[161.5,140.5],[162,140.5],[145,138],[148.5,139.5],[249.5,139],
  [110,127],[148.5,127.5],[187.5,128.5],[187.5,128],[180,127],[177,124.5],[177.5,124.5],[112.5,124.5],[140.5,124.5],[107.5,124],[104,123.5],[204.5,121.5],[135.5,120.5],
  [124,120],[124.5,120],[119,117.5],[104.5,115],[105,115],[123,114],[135.5,114.5],[120.5,112],[128,108],[174,108],[174.5,108],[107,107.5],[107.5,107.5],[156.5,105],
  [103.5,100.5],[105.5,98],[187.5,98],[105.5,95.5],[104.5,93.5],[105,93.5],[109.5,91.5],[109.5,91],[104,76.5],[104.5,76.5],[112.5,69],[112.5,68.5],[104,64.5],[165.5,63],[165.5,62.5],
  [213,179],[213,178.5],[159,188],[148.5,177.5]
];
const cyanPoints = [
  [13,247.5],[15.5,245.5],[15.5,241.5],[18,239.5],[20,236],[26,236],[13,235],[16,234],[13,232],[17,231.5],[16,228.5],[16,228],[16,225],[13,224.5],[20,219],[16.5,217],
  [15,208],[21,201],[12,201.5],[13,196],[15.5,195],[12,193.5],[24,193.5],[79,203],[49.5,217.5],[54.5,190],[55.5,179],[56,172.5],
  [11.5,168],[14,168.5],[15.5,164],[14,163],[13,161],[15.5,161],[18,157],[14,154],[15,152],[15.5,149],[18,145],[12.5,134],[11.5,133],[15.5,126],[13,121.5],[17,119],
  [10,118],[11.5,114],[15,109],[18,109],[11.5,104],[15,103],[14,100],[18,97],[20,95],[11,98],[14.5,94],[15,89],[15,93],
  [14.5,85],[13,81],[15.5,78],[14,73],[28,73],[16,66],[15.5,61],[26,60],[14,59],[11,50],[13,47],[15,45],[14.5,43],[13,37.5],[14,35],[15.5,34],[18,33],[17.5,28],
  [15,28.5],[13,21],[21,20.5],[18,18],[19,18],[14,13],[13,10],[16,10.5],[19,7],[15,3.5],[15.5,1],
  [57,167.5],[75,164.5],[52,161],[48.5,160.5],[53,158.5],[40.5,151.5],[44,148.5],[28,148.5],[53,150],[52,146],[50,145.5],[69,146.5],[49,143],[70,143.5],[34.5,142],[88.5,142],
  [55,140.5],[59,141],[37,139],[65,139.5],[44.5,138],[50,138],[56,137.5],[51,135],[63,135.5],[30,134],[93,135.5],[33,133],[49.5,133],[57.5,134],[44.5,128],[47.5,127.5],
  [48.5,127.5],[52,129],[53.5,130],[63.5,129],[54.5,126],[56.5,126.5],[50,124.5],[78.5,127.5],[36.5,121.5],[41.5,121],[68.5,121],[61,121],[63,120],[48.5,119],[48,117.5],
  [55,118],[45,116],[37.5,116],[40,114],[51.5,114],[65.5,114],[80,113.5],[33.5,113],[41,110.5],[57.5,110.5],[61.5,110.5],[44.5,108.5],[72,108],[32.5,106],[33,106],[43.5,104.5],
  [64,104],[56.5,103],[67,99],[34.5,98.5],[53,96.5],[34.5,96],[29,39],[31.5,80.5],[56,86.5]
];
const greenPoints = [[21,232.5],[12.5,176.5],[15,180],[15,212.5],[52,143],[49,121.5],[76.5,122.5],[13.5,168],[16,58.5],[12,33.5]];

// gate drawn round the evaporation residues
const gateX = [25.4, 25.4, 211.6, 211.6, 25.4];
const gateY = [71.2, 196.9, 196.9, 71.2, 71.2];
const gateLabel = "ERs";
const xTicksLabelled = [0, 50, 100, 150, 200, 250];
const yTicksLabelled = [0, 50, 100, 150, 200, 250];

function rowsToPoints(rows) {
    let out = [];
    rows.forEach(r => {
        for (let i = 1; i < r.length; i++) out.push({x: r[i], y: r[0]});
    });
    return out;
}
function pairsToPoints(pairs) {
    return pairs.map(p => ({x: p[0], y: p[1]}));
}

const purple = rowsToPoints(bandTop).concat(rowsToPoints(bandMid), rowsToPoints(bandLow), rowsToPoints(bandExtra), rowsToPoints(bandOuter),
    rowsToPoints(clusterRows), rowsToPoints(clusterExtra), rowsToPoints(lowRows), rowsToPoints(upperRows), pairsToPoints(sparsePoints));

const SANS = '"Liberation Sans", Arial, sans-serif';

// ROOT style ticks point into the plot, chart.js cannot do that per tick so it is done here
const plotDecor = {
    id: 'plotDecor',
    afterDatasetsDraw(chart) {
        const ctx = chart.ctx, a = chart.chartArea;
        const xs = chart.scales.x, ys = chart.scales.y;
        ctx.save();
        ctx.strokeStyle = '#000';
        ctx.lineWidth = 3;
        ctx.strokeRect(a.left, a.top, a.right - a.left, a.bottom - a.top);
        ctx.beginPath();
        xs.ticks.forEach(t => {
            const p = xs.getPixelForValue(t.value);
            ctx.moveTo(p, a.bottom);
            ctx.lineTo(p, a.bottom - (t.value % 50 == 0 ? 27 : 13));
        });
        ys.ticks.forEach(t => {
            const p = ys.getPixelForValue(t.value);
            ctx.moveTo(a.left, p);
            ctx.lineTo(a.left + (t.value % 50 == 0 ? 28 : 14), p);
        });
        ctx.stroke();
        ctx.fillStyle = '#000';
        ctx.font = '55px "Liberation Serif", serif';
        ctx.textBaseline = 'alphabetic';
        ctx.fillText(gateLabel, xs.getPixelForValue(157.6), ys.getPixelForValue(163.6));
        ctx.restore();
    }
};

function noOverhang(s) {
    s.paddingTop = 0;
    s.paddingBottom = 0;
    s.paddingLeft = 0;
    s.paddingRight = 0;
}

new Chart(document.getElementById('main'), {
    type: 'scatter',
    plugins: [plotDecor],
    data: {
        datasets: [
            {
                type: 'line',
                data: gateX.map((x, i) => ({x: x, y: gateY[i]})),
                borderColor: '#e60000',
                borderWidth: 7,
                borderJoinStyle: 'miter',
                pointRadius: 0,
                tension: 0,
                fill: false
            },
            { data: pairsToPoints(greenPoints), pointStyle: 'rect', pointRadius: 2.4, pointBorderWidth: 0, backgroundColor: '#00ff40' },
            { data: pairsToPoints(cyanPoints), pointStyle: 'rect', pointRadius: 2.4, pointBorderWidth: 0, backgroundColor: '#00d4ff' },
            { data: purple, pointStyle: 'rect', pointRadius: 2.4, pointBorderWidth: 0, backgroundColor: '#8c00ff' }
        ]
    },
    options: {
        responsive: false,
        animation: false,
        events: [],
        layout: { padding: { top: 16, right: 129, left: 0, bottom: 0 } },
        plugins: { legend: { display: false }, tooltip: { enabled: false } },
        scales: {
            x: {
                type: 'linear',
                min: 0,
                max: 250,
                grid: { display: false },
                border: { display: false },
                afterFit(s) { s.height = 99; noOverhang(s); },
                ticks: {
                    stepSize: 10,
                    autoSkip: false,
                    maxRotation: 0,
                    padding: 2,
                    color: '#000',
                    font: { family: SANS, size: 31 },
                    callback: v => xTicksLabelled.includes(v) ? String(v) : ''
                },
                title: {
                    display: true,
                    text: 'Energy loss (arb. units)',
                    color: '#000',
                    font: { family: SANS, size: 35.5 },
                    padding: { top: 0, bottom: 1 }
                }
            },
            y: {
                type: 'linear',
                min: 0,
                max: 250,
                grid: { display: false },
                border: { display: false },
                afterFit(s) { s.width = 125; noOverhang(s); },
                ticks: {
                    stepSize: 10,
                    autoSkip: false,
                    padding: 4,
                    labelOffset: 3,
                    color: '#000',
                    font: { family: SANS, size: 31 },
                    callback: v => yTicksLabelled.includes(v) ? String(v) : ''
                },
                title: {
                    display: true,
                    text: 'Time of flight (arb. units)',
                    color: '#000',
                    font: { family: SANS, size: 35.5 },
                    padding: { top: 7, bottom: 0 }
                }
            }
        }
    }
});

// colour scale, log axis from 1 to 10
const bandCount = 50;
const bandHeight = 0.0202;   // decades per colour step, the lowest step is cut off by the axis
const barLabels = [1, 10];
const barSets = [];
for (let k = 0; k < bandCount; k++) {
    const hi = Math.pow(10, 1 - k * bandHeight);
    const lo = Math.max(1, Math.pow(10, 1 - (k + 1) * bandHeight));
    barSets.push({
        data: [[lo, hi]],
        backgroundColor: 'hsl(' + (k * 5.6) + ',100%,50%)',
        borderWidth: 0,
        barPercentage: 1,
        categoryPercentage: 1,
        grouped: false
    });
}

const barDecor = {
    id: 'barDecor',
    afterDatasetsDraw(chart) {
        const ctx = chart.ctx, a = chart.chartArea, ys = chart.scales.y;
        ctx.save();
        ctx.strokeStyle = '#000';
        ctx.lineWidth = 3;
        ctx.beginPath();
        ctx.moveTo(a.right, a.top - 1);
        ctx.lineTo(a.right, a.bottom + 1);
        ys.ticks.forEach(t => {
            const p = ys.getPixelForValue(t.value);
            ctx.moveTo(a.right, p);
            ctx.lineTo(a.right - (barLabels.includes(t.value) ? 29 : 14), p);
        });
        ctx.stroke();
        ctx.restore();
    }
};

new Chart(document.getElementById('bar'), {
    type: 'bar',
    plugins: [barDecor],
    data: { labels: [''], datasets: barSets },
    options: {
        responsive: false,
        animation: false,
        events: [],
        layout: { padding: { top: 16, bottom: 99, left: 4, right: 0 } },
        plugins: { legend: { display: false }, tooltip: { enabled: false } },
        scales: {
            x: { display: false },
            y: {
                type: 'logarithmic',
                position: 'right',
                min: 1,
                max: 10,
                grid: { display: false },
                border: { display: false },
                afterFit(s) { s.width = 71; noOverhang(s); },
                ticks: {
                    autoSkip: false,
                    padding: 11,
                    labelOffset: 5,
                    color: '#000',
                    font: { family: SANS, size: 31 },
                    callback: v => barLabels.includes(v) ? String(v) : ''
                }
            }
        }
    }
});
</script>
</body>
</html>
